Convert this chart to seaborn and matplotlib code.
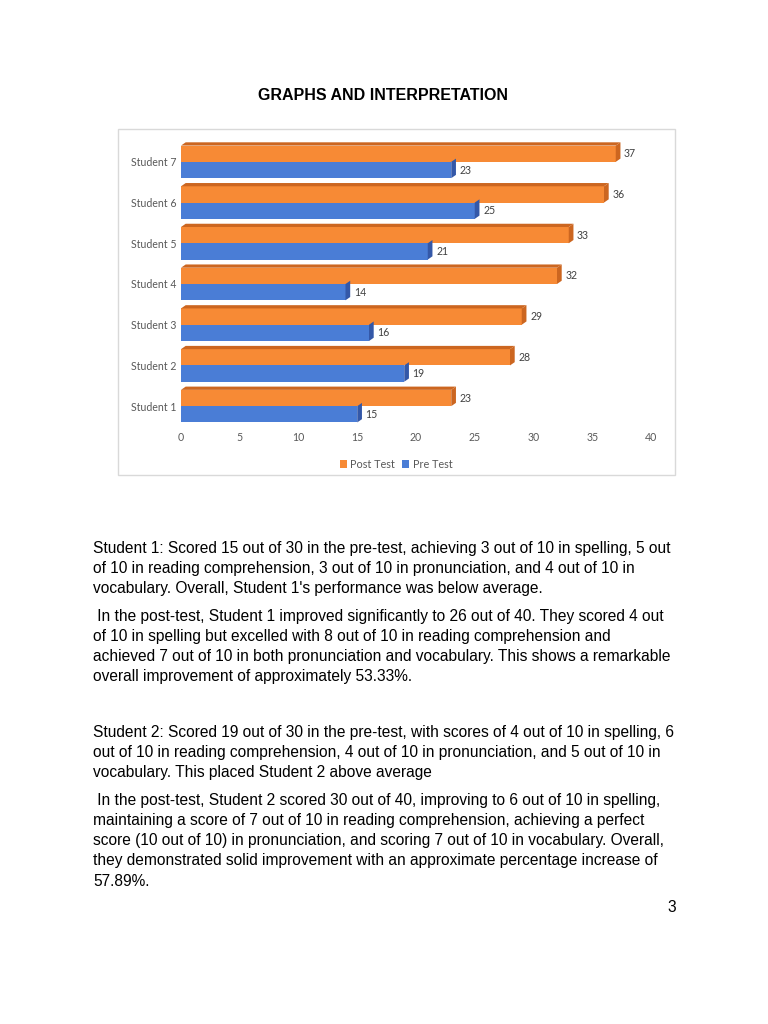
import matplotlib
matplotlib.use("Agg")
import matplotlib.pyplot as plt
from matplotlib.patches import Polygon, Rectangle, Patch
import seaborn as sns
import pandas as pd

students = ["Student 7", "Student 6", "Student 5", "Student 4", "Student 3", "Student 2", "Student 1"]
post_test = [37, 36, 33, 32, 29, 28, 23]
pre_test = [23, 25, 21, 14, 16, 19, 15]
series = ["Post Test", "Pre Test"]
x_ticks = [0, 5, 10, 15, 20, 25, 30, 35, 40]

title = "GRAPHS AND INTERPRETATION"
paragraphs = [
    ["Student 1: Scored 15 out of 30 in the pre-test, achieving 3 out of 10 in spelling, 5 out",
     "of 10 in reading comprehension, 3 out of 10 in pronunciation, and 4 out of 10 in",
     "vocabulary. Overall, Student 1's performance was below average."],
    [" In the post-test, Student 1 improved significantly to 26 out of 40. They scored 4 out",
     "of 10 in spelling but excelled with 8 out of 10 in reading comprehension and",
     "achieved 7 out of 10 in both pronunciation and vocabulary. This shows a remarkable",
     "overall improvement of approximately 53.33%."],
    ["Student 2: Scored 19 out of 30 in the pre-test, with scores of 4 out of 10 in spelling, 6",
     "out of 10 in reading comprehension, 4 out of 10 in pronunciation, and 5 out of 10 in",
     "vocabulary. This placed Student 2 above average"],
    [" In the post-test, Student 2 scored 30 out of 40, improving to 6 out of 10 in spelling,",
     "maintaining a score of 7 out of 10 in reading comprehension, achieving a perfect",
     "score (10 out of 10) in pronunciation, and scoring 7 out of 10 in vocabulary. Overall,",
     "they demonstrated solid improvement with an approximate percentage increase of",
     "57.89%."],
]
page_number = "3"

df = pd.DataFrame({
    "Student": students * 2,
    "Score": post_test + pre_test,
    "Series": [series[0]] * len(students) + [series[1]] * len(students),
})

colors = {"Post Test": "#F78A35", "Pre Test": "#4A7DD6"}
dark = {"Post Test": "#CC6620", "Pre Test": "#3458A8"}

sns.set_theme(style="white")
plt.rcParams["font.family"] = ["Lato", "DejaVu Sans"]

W, H = 768, 1024
fig = plt.figure(figsize=(W / 100, H / 100), dpi=100)
fig.patch.set_facecolor("white")

def fx(px):
    return px / W

def fy(py):
    return 1 - py / H

# chart box
fig.patches.append(Rectangle((fx(118), fy(475)), fx(675) - fx(118), fy(129) - fy(475),
                             transform=fig.transFigure, fill=False, edgecolor="#D9D9D9",
                             linewidth=1.0, zorder=0))

ax = fig.add_axes([fx(181), fy(426.5), fx(651) - fx(181), fy(141.5) - fy(426.5)])
sns.barplot(data=df, y="Student", x="Score", hue="Series", order=students,
            hue_order=series, palette=colors, orient="h", width=0.8,
            saturation=1, ax=ax, legend=False, linewidth=0)
ax.set_xlim(0, 40)
ax.set_xticks(x_ticks)
ax.set_xlabel("")
ax.set_ylabel("")
for s in ax.spines.values():
    s.set_visible(False)
ax.tick_params(axis="both", length=0, labelsize=7.6, labelcolor="#595959")
ax.tick_params(axis="y", pad=3)
ax.tick_params(axis="x", pad=4)
ax.grid(False)

# 3D-like faces derived from bars
dx = 0.4
dy = 0.08
for ci, (name, cont) in enumerate(zip(series, ax.containers)):
    for p in cont.patches:
        p.set_edgecolor("none")
        w = p.get_width()
        top = p.get_y()
        bot = p.get_y() + p.get_height()
        side = Polygon([(w, top), (w, bot), (w + dx, bot - dy), (w + dx, top - dy)],
                       closed=True, facecolor=dark[name], edgecolor="none", zorder=3)
        ax.add_patch(side)
        if ci == 0:
            topf = Polygon([(0, top), (w, top), (w + dx, top - dy), (dx, top - dy)],
                           closed=True, facecolor=dark[name], edgecolor="none", zorder=3)
            ax.add_patch(topf)
    ax.bar_label(cont, padding=6, fontsize=7.6, color="#404040")

handles = [Patch(facecolor=colors[s], edgecolor="none") for s in series]
fig.legend(handles, series, loc="center", bbox_to_anchor=(fx(396), fy(464)), ncol=2,
           frameon=False, fontsize=7.8, labelcolor="#595959", handlelength=0.7,
           handleheight=0.7, handletextpad=0.3, columnspacing=0.6)

fig.text(fx(383), fy(96), title, ha="center", va="center", fontsize=11.5,
         fontweight="bold", family="Liberation Sans", color="black")

line_y = [[549, 569, 589], [617, 637, 657, 677], [732, 752, 772], [801, 821, 841, 861, 881]]
for para, ys in zip(paragraphs, line_y):
    for line, y in zip(para, ys):
        fig.text(fx(93), fy(y), line, ha="left", va="center", fontsize=11.17,
                 family="Liberation Sans", color="black")

fig.text(fx(676), fy(907), page_number, ha="right", va="center", fontsize=11.17,
         family="Liberation Sans", color="black")

fig.savefig("out.png", dpi=100, facecolor="white")
